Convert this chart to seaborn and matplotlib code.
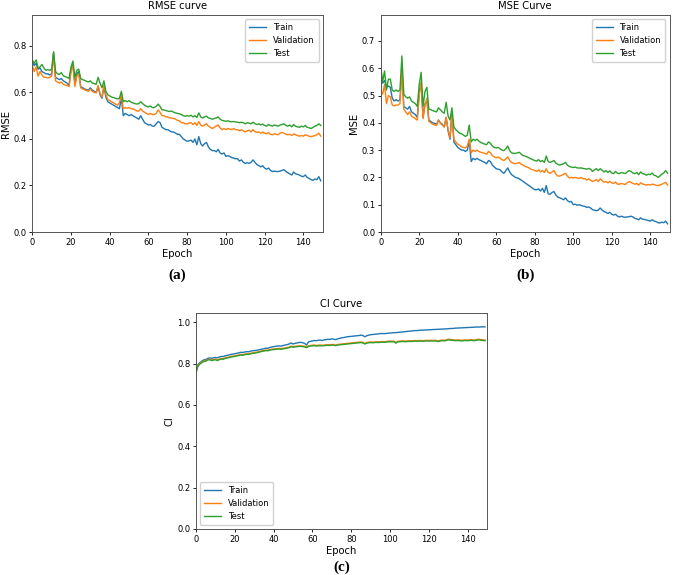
import numpy as np
import pandas as pd
import seaborn as sns
import matplotlib.pyplot as plt

# values, one per epoch (0..149)
epochs = list(range(150))

rmse_train = [
    0.735, 0.715, 0.725, 0.700, 0.705, 0.690, 0.685, 0.680, 0.680, 0.675,
    0.680, 0.770, 0.665, 0.660, 0.655, 0.660, 0.650, 0.645, 0.640, 0.630,
    0.700, 0.720, 0.635, 0.680, 0.690, 0.625, 0.620, 0.615, 0.612, 0.610,
    0.620, 0.610, 0.605, 0.600, 0.625, 0.590, 0.575, 0.625, 0.580, 0.560,
    0.555, 0.550, 0.545, 0.540, 0.535, 0.530, 0.575, 0.500, 0.510, 0.505,
    0.500, 0.505, 0.500, 0.495, 0.490, 0.485, 0.500, 0.485, 0.470, 0.465,
    0.460, 0.462, 0.455, 0.455, 0.465, 0.475, 0.470, 0.450, 0.445, 0.440,
    0.440, 0.435, 0.430, 0.430, 0.425, 0.420, 0.420, 0.410, 0.400, 0.395,
    0.390, 0.392, 0.395, 0.385, 0.400, 0.375, 0.410, 0.380, 0.370, 0.380,
    0.385, 0.365, 0.355, 0.350, 0.350, 0.345, 0.355, 0.340, 0.335, 0.340,
    0.325, 0.328, 0.325, 0.320, 0.318, 0.315, 0.315, 0.305, 0.310, 0.300,
    0.295, 0.298, 0.295, 0.300, 0.310, 0.300, 0.290, 0.285, 0.280, 0.285,
    0.275, 0.270, 0.275, 0.265, 0.260, 0.262, 0.260, 0.260, 0.262, 0.265,
    0.268, 0.260, 0.255, 0.250, 0.245, 0.258, 0.250, 0.248, 0.245, 0.240,
    0.238, 0.245, 0.235, 0.230, 0.225, 0.222, 0.228, 0.225, 0.238, 0.220]
rmse_val = [
    0.715, 0.690, 0.710, 0.670, 0.690, 0.675, 0.665, 0.665, 0.662, 0.665,
    0.670, 0.765, 0.650, 0.645, 0.640, 0.645, 0.635, 0.632, 0.630, 0.625,
    0.690, 0.715, 0.625, 0.670, 0.680, 0.620, 0.615, 0.612, 0.608, 0.605,
    0.615, 0.605, 0.600, 0.598, 0.630, 0.595, 0.580, 0.630, 0.590, 0.570,
    0.565, 0.560, 0.555, 0.550, 0.545, 0.555, 0.590, 0.530, 0.535, 0.532,
    0.535, 0.530, 0.530, 0.525, 0.520, 0.520, 0.530, 0.520, 0.515, 0.510,
    0.505, 0.510, 0.505, 0.505, 0.510, 0.525, 0.515, 0.500, 0.500, 0.495,
    0.495, 0.490, 0.490, 0.488, 0.485, 0.480, 0.478, 0.470, 0.470, 0.465,
    0.465, 0.468, 0.470, 0.462, 0.470, 0.458, 0.475, 0.460, 0.455, 0.460,
    0.465, 0.455, 0.450, 0.445, 0.450, 0.455, 0.460, 0.448, 0.440, 0.445,
    0.440, 0.445, 0.442, 0.440, 0.445, 0.440, 0.440, 0.435, 0.440, 0.435,
    0.430, 0.435, 0.438, 0.430, 0.440, 0.432, 0.428, 0.430, 0.425, 0.430,
    0.425, 0.422, 0.428, 0.420, 0.418, 0.422, 0.420, 0.418, 0.425, 0.428,
    0.425, 0.420, 0.418, 0.420, 0.415, 0.422, 0.418, 0.415, 0.412, 0.415,
    0.412, 0.418, 0.415, 0.412, 0.410, 0.412, 0.415, 0.418, 0.425, 0.412]
rmse_test = [
    0.740, 0.725, 0.740, 0.705, 0.710, 0.720, 0.705, 0.695, 0.698, 0.695,
    0.700, 0.775, 0.690, 0.680, 0.678, 0.685, 0.672, 0.668, 0.665, 0.660,
    0.710, 0.735, 0.665, 0.695, 0.700, 0.660, 0.655, 0.652, 0.648, 0.645,
    0.650, 0.640, 0.638, 0.635, 0.665, 0.640, 0.620, 0.650, 0.605, 0.590,
    0.585, 0.580, 0.578, 0.575, 0.572, 0.575, 0.605, 0.560, 0.565, 0.560,
    0.565, 0.558, 0.555, 0.552, 0.550, 0.552, 0.560, 0.552, 0.545, 0.540,
    0.538, 0.542, 0.535, 0.535, 0.540, 0.550, 0.540, 0.525, 0.525, 0.522,
    0.520, 0.518, 0.520, 0.515, 0.512, 0.510, 0.508, 0.505, 0.500, 0.498,
    0.500, 0.498, 0.502, 0.495, 0.500, 0.492, 0.512, 0.495, 0.490, 0.495,
    0.498, 0.490, 0.488, 0.485, 0.488, 0.490, 0.495, 0.485, 0.480, 0.478,
    0.476, 0.478, 0.475, 0.474, 0.475, 0.473, 0.472, 0.470, 0.472, 0.470,
    0.465, 0.470, 0.468, 0.465, 0.472, 0.466, 0.462, 0.465, 0.460, 0.464,
    0.458, 0.455, 0.462, 0.458, 0.455, 0.460, 0.458, 0.455, 0.460, 0.462,
    0.465, 0.458, 0.455, 0.460, 0.452, 0.462, 0.455, 0.452, 0.450, 0.455,
    0.452, 0.458, 0.450, 0.448, 0.445, 0.450, 0.455, 0.458, 0.465, 0.458]

mse_train = [
    0.560, 0.545, 0.555, 0.530, 0.535, 0.530, 0.490, 0.480, 0.485, 0.480,
    0.485, 0.600, 0.460, 0.455, 0.450, 0.460, 0.440, 0.435, 0.430, 0.420,
    0.510, 0.545, 0.420, 0.470, 0.480, 0.410, 0.405, 0.400, 0.398, 0.395,
    0.410, 0.400, 0.395, 0.385, 0.420, 0.370, 0.340, 0.440, 0.330, 0.320,
    0.310, 0.305, 0.300, 0.300, 0.295, 0.300, 0.335, 0.258, 0.270, 0.265,
    0.270, 0.265, 0.262, 0.258, 0.255, 0.250, 0.262, 0.258, 0.245, 0.238,
    0.232, 0.230, 0.228, 0.220, 0.215, 0.225, 0.235, 0.220, 0.210, 0.205,
    0.200, 0.198, 0.195, 0.190, 0.185, 0.180, 0.175, 0.170, 0.165, 0.160,
    0.155, 0.155, 0.158, 0.150, 0.160, 0.145, 0.170, 0.140, 0.138, 0.145,
    0.148, 0.135, 0.128, 0.125, 0.122, 0.118, 0.125, 0.115, 0.110, 0.112,
    0.100, 0.102, 0.098, 0.100, 0.098, 0.095, 0.094, 0.090, 0.092, 0.088,
    0.082, 0.080, 0.078, 0.080, 0.088, 0.080, 0.075, 0.072, 0.068, 0.072,
    0.065, 0.062, 0.065, 0.058, 0.055, 0.058, 0.055, 0.054, 0.055, 0.056,
    0.058, 0.055, 0.050, 0.048, 0.045, 0.052, 0.047, 0.046, 0.044, 0.042,
    0.040, 0.045, 0.040, 0.038, 0.034, 0.033, 0.036, 0.034, 0.040, 0.030]
mse_val = [
    0.520, 0.505, 0.540, 0.470, 0.500, 0.495, 0.465, 0.462, 0.465, 0.465,
    0.470, 0.590, 0.450, 0.440, 0.430, 0.440, 0.425, 0.420, 0.415, 0.410,
    0.500, 0.550, 0.415, 0.465, 0.490, 0.405, 0.400, 0.395, 0.392, 0.390,
    0.410, 0.398, 0.392, 0.385, 0.420, 0.375, 0.345, 0.425, 0.340, 0.330,
    0.322, 0.318, 0.312, 0.310, 0.308, 0.315, 0.340, 0.290, 0.300, 0.295,
    0.300, 0.295, 0.292, 0.290, 0.288, 0.285, 0.295, 0.290, 0.280, 0.275,
    0.272, 0.275, 0.270, 0.265, 0.262, 0.268, 0.275, 0.262, 0.255, 0.252,
    0.250, 0.252, 0.255, 0.248, 0.245, 0.240, 0.238, 0.235, 0.230, 0.228,
    0.225, 0.222, 0.228, 0.220, 0.225, 0.218, 0.232, 0.218, 0.215, 0.220,
    0.225, 0.212, 0.205, 0.205, 0.208, 0.212, 0.215, 0.205, 0.198, 0.200,
    0.198, 0.200, 0.198, 0.196, 0.200, 0.195, 0.196, 0.190, 0.195, 0.190,
    0.185, 0.188, 0.192, 0.185, 0.195, 0.188, 0.182, 0.185, 0.180, 0.185,
    0.180, 0.178, 0.183, 0.175, 0.175, 0.178, 0.176, 0.174, 0.180, 0.185,
    0.182, 0.178, 0.175, 0.178, 0.172, 0.180, 0.176, 0.174, 0.172, 0.174,
    0.172, 0.175, 0.174, 0.171, 0.170, 0.172, 0.175, 0.178, 0.182, 0.172]
mse_test = [
    0.610, 0.550, 0.590, 0.520, 0.560, 0.560, 0.520, 0.515, 0.520, 0.515,
    0.520, 0.645, 0.505, 0.495, 0.490, 0.495, 0.480, 0.475, 0.470, 0.460,
    0.540, 0.585, 0.460, 0.515, 0.530, 0.450, 0.448, 0.445, 0.442, 0.440,
    0.455, 0.448, 0.440, 0.435, 0.475, 0.425, 0.410, 0.455, 0.385, 0.375,
    0.368, 0.362, 0.360, 0.355, 0.350, 0.355, 0.392, 0.330, 0.340, 0.335,
    0.340, 0.333, 0.328, 0.325, 0.322, 0.320, 0.330, 0.325, 0.315, 0.310,
    0.308, 0.310, 0.305, 0.300, 0.298, 0.305, 0.315, 0.298, 0.290, 0.288,
    0.288, 0.290, 0.292, 0.285, 0.280, 0.278, 0.275, 0.272, 0.268, 0.265,
    0.262, 0.260, 0.265, 0.258, 0.262, 0.255, 0.278, 0.258, 0.255, 0.258,
    0.262, 0.252, 0.248, 0.245, 0.248, 0.250, 0.255, 0.245, 0.240, 0.238,
    0.236, 0.238, 0.235, 0.234, 0.235, 0.233, 0.232, 0.230, 0.233, 0.230,
    0.222, 0.228, 0.232, 0.225, 0.232, 0.226, 0.220, 0.225, 0.218, 0.224,
    0.216, 0.214, 0.222, 0.215, 0.214, 0.218, 0.216, 0.214, 0.220, 0.225,
    0.222, 0.216, 0.214, 0.218, 0.210, 0.220, 0.214, 0.212, 0.208, 0.212,
    0.210, 0.216, 0.208, 0.206, 0.200, 0.205, 0.212, 0.216, 0.225, 0.215]

ci_train = [
    0.760, 0.795, 0.805, 0.812, 0.818, 0.820, 0.825, 0.828, 0.826, 0.828,
    0.830, 0.828, 0.832, 0.835, 0.834, 0.838, 0.840, 0.842, 0.845, 0.846,
    0.848, 0.850, 0.852, 0.855, 0.854, 0.856, 0.858, 0.857, 0.860, 0.862,
    0.863, 0.864, 0.866, 0.868, 0.870, 0.872, 0.875, 0.874, 0.878, 0.880,
    0.882, 0.884, 0.885, 0.886, 0.885, 0.888, 0.890, 0.892, 0.895, 0.900,
    0.895, 0.898, 0.900, 0.902, 0.903, 0.901, 0.898, 0.890, 0.905, 0.908,
    0.910, 0.912, 0.911, 0.913, 0.914, 0.912, 0.915, 0.916, 0.918, 0.917,
    0.920, 0.918, 0.916, 0.920, 0.922, 0.925, 0.926, 0.928, 0.930, 0.931,
    0.932, 0.933, 0.934, 0.935, 0.936, 0.938, 0.936, 0.930, 0.935, 0.938,
    0.940, 0.941, 0.942, 0.943, 0.944, 0.945, 0.946, 0.945, 0.946, 0.947,
    0.948, 0.949, 0.950, 0.950, 0.951, 0.952, 0.953, 0.954, 0.955, 0.956,
    0.957, 0.958, 0.959, 0.960, 0.960, 0.961, 0.962, 0.962, 0.963, 0.963,
    0.964, 0.964, 0.965, 0.965, 0.966, 0.966, 0.967, 0.967, 0.968, 0.968,
    0.969, 0.970, 0.970, 0.971, 0.972, 0.972, 0.973, 0.973, 0.974, 0.974,
    0.975, 0.975, 0.976, 0.976, 0.977, 0.977, 0.977, 0.978, 0.978, 0.978]
ci_val = [
    0.760, 0.790, 0.800, 0.808, 0.812, 0.815, 0.820, 0.822, 0.818, 0.820,
    0.822, 0.818, 0.822, 0.825, 0.824, 0.828, 0.830, 0.832, 0.835, 0.836,
    0.838, 0.840, 0.842, 0.845, 0.843, 0.846, 0.848, 0.847, 0.850, 0.852,
    0.853, 0.855, 0.857, 0.860, 0.862, 0.864, 0.866, 0.865, 0.868, 0.870,
    0.871, 0.872, 0.873, 0.874, 0.872, 0.875, 0.876, 0.878, 0.880, 0.885,
    0.882, 0.884, 0.885, 0.886, 0.887, 0.885, 0.884, 0.880, 0.886, 0.888,
    0.889, 0.890, 0.888, 0.889, 0.890, 0.889, 0.890, 0.891, 0.892, 0.891,
    0.893, 0.892, 0.890, 0.893, 0.894, 0.895, 0.896, 0.897, 0.898, 0.899,
    0.900, 0.901, 0.902, 0.903, 0.904, 0.905, 0.903, 0.898, 0.902, 0.904,
    0.905, 0.904, 0.905, 0.906, 0.905, 0.906, 0.907, 0.906, 0.907, 0.908,
    0.909, 0.908, 0.909, 0.902, 0.908, 0.909, 0.910, 0.910, 0.909, 0.910,
    0.911, 0.910, 0.911, 0.912, 0.911, 0.912, 0.912, 0.911, 0.912, 0.913,
    0.912, 0.913, 0.912, 0.913, 0.912, 0.910, 0.913, 0.914, 0.913, 0.915,
    0.918, 0.917, 0.916, 0.915, 0.914, 0.915, 0.914, 0.913, 0.914, 0.915,
    0.914, 0.915, 0.916, 0.914, 0.915, 0.917, 0.918, 0.916, 0.915, 0.914]
ci_test = [
    0.755, 0.788, 0.798, 0.805, 0.810, 0.812, 0.817, 0.819, 0.815, 0.817,
    0.819, 0.815, 0.819, 0.822, 0.821, 0.825, 0.827, 0.829, 0.832, 0.833,
    0.835, 0.837, 0.839, 0.842, 0.840, 0.843, 0.845, 0.844, 0.847, 0.849,
    0.850, 0.852, 0.854, 0.857, 0.859, 0.861, 0.863, 0.862, 0.865, 0.867,
    0.868, 0.869, 0.870, 0.871, 0.869, 0.872, 0.873, 0.875, 0.877, 0.882,
    0.879, 0.881, 0.882, 0.883, 0.884, 0.882, 0.881, 0.877, 0.883, 0.885,
    0.886, 0.887, 0.885, 0.886, 0.887, 0.886, 0.887, 0.888, 0.889, 0.888,
    0.890, 0.889, 0.887, 0.890, 0.891, 0.892, 0.893, 0.894, 0.895, 0.896,
    0.897, 0.898, 0.899, 0.900, 0.901, 0.902, 0.900, 0.895, 0.899, 0.901,
    0.902, 0.901, 0.902, 0.903, 0.902, 0.903, 0.904, 0.903, 0.904, 0.905,
    0.906, 0.905, 0.906, 0.899, 0.905, 0.906, 0.907, 0.907, 0.906, 0.907,
    0.908, 0.907, 0.908, 0.909, 0.908, 0.909, 0.909, 0.908, 0.909, 0.910,
    0.909, 0.910, 0.909, 0.910, 0.909, 0.907, 0.910, 0.911, 0.910, 0.912,
    0.915, 0.914, 0.913, 0.912, 0.911, 0.912, 0.911, 0.910, 0.911, 0.912,
    0.911, 0.912, 0.913, 0.911, 0.912, 0.914, 0.915, 0.913, 0.912, 0.911]

series_names = ['Train', 'Validation', 'Test']
colors = ['#1f77b4', '#ff7f0e', '#2ca02c']

plt.rcParams['font.family'] = 'DejaVu Sans'
W, H = 676, 575
fig = plt.figure(figsize=(W / 100, H / 100), dpi=100)


def px_axes(x0, y0, x1, y1):
    # pixel box (top-left origin) -> figure axes
    return fig.add_axes([x0 / W, 1 - y1 / H, (x1 - x0) / W, (y1 - y0) / H])


def draw_panel(ax, values, title, ylabel, ylim, legend_loc, tag, tag_y):
    for name, vals, c in zip(series_names, values, colors):
        sns.lineplot(x=epochs, y=vals, ax=ax, color=c, label=name, linewidth=1.0)
    ax.set_xlim(0, 150)
    ax.set_ylim(*ylim)
    ax.set_title(title, fontsize=7.2, pad=4)
    ax.set_xlabel('Epoch', fontsize=7.2, labelpad=2)
    ax.set_ylabel(ylabel, fontsize=7.2, labelpad=2)
    ax.tick_params(labelsize=6, length=2.5, width=0.6, pad=1.5)
    for s in ax.spines.values():
        s.set_linewidth(0.7)
        s.set_color('#555555')
    ax.legend(loc=legend_loc, fontsize=6, handlelength=2.0, borderpad=0.5,
              labelspacing=0.45, framealpha=0.9, edgecolor='#cccccc')
    pos = ax.get_position()
    fig.text(pos.x0 + pos.width / 2, 1 - tag_y / H, tag, ha='center', va='center',
             fontsize=11, fontweight='bold', family='Liberation Serif')


ax_a = px_axes(32.3, 15, 322.7, 232)
draw_panel(ax_a, [rmse_train, rmse_val, rmse_test], 'RMSE curve', 'RMSE',
           (0, 0.933), 'upper right', '(a)', 275)
ax_a.set_yticks([0.0, 0.2, 0.4, 0.6, 0.8])

ax_b = px_axes(380.7, 15, 669.5, 232)
draw_panel(ax_b, [mse_train, mse_val, mse_test], 'MSE Curve', 'MSE',
           (0, 0.795), 'upper right', '(b)', 275)
ax_b.set_yticks([0.0, 0.1, 0.2, 0.3, 0.4, 0.5, 0.6, 0.7])

ax_c = px_axes(196, 313, 487, 529)
draw_panel(ax_c, [ci_train, ci_val, ci_test], 'CI Curve', 'CI',
           (0, 1.045), 'lower left', '(c)', 567)
ax_c.set_yticks([0.0, 0.2, 0.4, 0.6, 0.8, 1.0])

fig.savefig('out.png', dpi=100)
